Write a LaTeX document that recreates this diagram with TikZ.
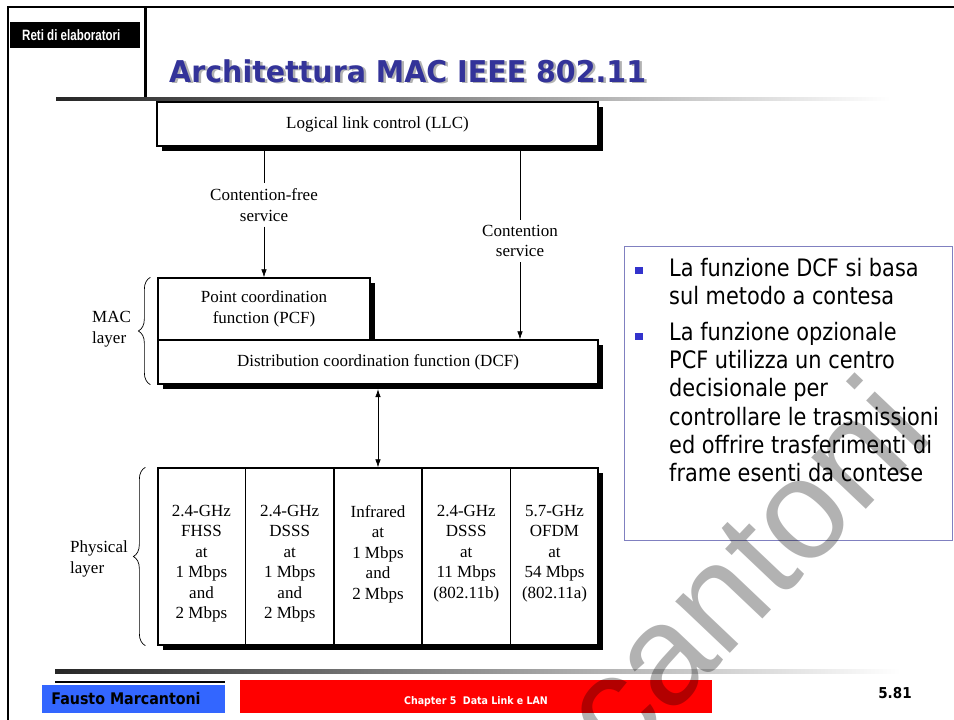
\documentclass[tikz,border=0pt]{standalone}
\usepackage{fontspec}
\setmainfont{Liberation Serif}
\newfontfamily\tah{DejaVu Sans}
\newfontfamily\arialf{Liberation Sans}
\usetikzlibrary{arrows.meta,shadows,decorations.pathreplacing,calc}
\definecolor{titleblue}{RGB}{51,51,153}
\definecolor{bulletblue}{RGB}{51,51,204}
\definecolor{boxborder}{RGB}{128,128,192}
\definecolor{footblue}{RGB}{51,102,255}
\begin{document}
\begin{tikzpicture}[x=1pt,y=-1pt,
  box/.style={draw, line width=1.3pt, fill=white, inner sep=0pt, align=center,
    font=\fontsize{17}{20.5}\selectfont},
  shad/.style={drop shadow={shadow xshift=4.5pt, shadow yshift=-4.5pt, fill=black, opacity=1}},
  lbl/.style={inner sep=0pt, align=center, font=\fontsize{17}{20.5}\selectfont},
  conn/.style={line width=0.7pt},
  arr/.style={line width=0.7pt, -{Latex[length=8pt,width=5.5pt]}},
  darr/.style={line width=0.7pt, {Latex[length=8pt,width=5.5pt]}-{Latex[length=8pt,width=5.5pt]}},
  brc/.style={line width=0.7pt, decorate, decoration={brace, amplitude=12pt}},
  rline/.style={anchor=base west, inner sep=0pt, font=\tah\fontsize{24}{28}\selectfont},
  bul/.style={fill=bulletblue, minimum size=7.5pt, inner sep=0pt},
]
\useasboundingbox (0,0) rectangle (954,720);
\fill[white] (0,0) rectangle (954,720);

% frame
\draw[line width=2.5pt] (8,720) -- (8,7) -- (954,7);
\draw[line width=3pt] (145,7) -- (145,100);
\shade[left color=black!85, right color=white] (56,97) rectangle (890,100.5);

% top-left label
\fill[black] (10,22) rectangle (140,48);
\node[anchor=west, inner sep=0pt, text=white] (reti) at (22,35)
  {\arialf\bfseries\fontsize{15}{15}\selectfont\scalebox{0.77}[1]{Reti di elaboratori}};

% title
\node[anchor=base west, inner sep=0pt, text=black!30] (titleshadow) at (171.5,83.5)
  {\tah\bfseries\fontsize{30}{30}\selectfont\scalebox{0.95}[1]{Architettura MAC IEEE 802.11}};
\node[anchor=base west, inner sep=0pt, text=titleblue] (title) at (169,82)
  {\tah\bfseries\fontsize{30}{30}\selectfont\scalebox{0.95}[1]{Architettura MAC IEEE 802.11}};

% diagram
\node[box, shad, minimum width=441, minimum height=44] (llc) at (377.5,124) {Logical link control (LLC)};
\node[box, shad, minimum width=212, minimum height=62] (pcf) at (264,309) {Point coordination\\function (PCF)};
\node[box, shad, minimum width=440, minimum height=44] (dcf) at (378,362) {Distribution coordination function (DCF)};
\node[box, shad, minimum width=440, minimum height=177] (phy) at (378,556.5) {};
\foreach \i in {1,...,4}
  \draw[line width=1.3pt] ($(phy.north west)!\i/5!(phy.north east)$) -- ($(phy.south west)!\i/5!(phy.south east)$);

\node[lbl, anchor=north] (c1) at ($(phy.north west)!0.1!(phy.north east)+(0,37.5)$) {2.4-GHz\\FHSS\\at\\1 Mbps\\and\\2 Mbps};
\node[lbl, anchor=north] (c2) at ($(phy.north west)!0.3!(phy.north east)+(0,37.5)$) {2.4-GHz\\DSSS\\at\\1 Mbps\\and\\2 Mbps};
\node[lbl, anchor=north] (c3) at ($(phy.north west)!0.5!(phy.north east)+(0,37.5)$) {Infrared\\at\\1 Mbps\\and\\2 Mbps};
\node[lbl, anchor=north] (c4) at ($(phy.north west)!0.7!(phy.north east)+(0,37.5)$) {2.4-GHz\\DSSS\\at\\11 Mbps\\(802.11b)};
\node[lbl, anchor=north] (c5) at ($(phy.north west)!0.9!(phy.north east)+(0,37.5)$) {5.7-GHz\\OFDM\\at\\54 Mbps\\(802.11a)};

\node[lbl, inner ysep=5pt] (cf) at (264,205) {Contention-free\\service};
\node[lbl, inner ysep=5pt] (cs) at (520,241) {Contention\\service};
\draw[conn] (cf |- llc.south) -- (cf.north);
\draw[arr] (cf.south) -- (cf |- pcf.north);
\draw[conn] (cs |- llc.south) -- (cs.north);
\draw[arr] (cs.south) -- (cs |- dcf.north);
\draw[darr] ([yshift=-4.5pt]dcf.south) -- (phy.north);

\draw[brc] ([xshift=-7pt]dcf.south west) -- ([xshift=-7pt]pcf.north west);
\draw[brc] ([xshift=-12pt]phy.south west) -- ([xshift=-12pt]phy.north west);
\node[lbl, align=left, anchor=west] (mac) at (92,329) {MAC\\layer};
\node[lbl, align=left, anchor=west] (phl) at (70,559) {Physical\\layer};

% right text box
\node[draw=boxborder, line width=0.9pt, minimum width=328, minimum height=294, anchor=north west, inner sep=0pt] (tb) at (624,246) {};
\node[bul] (b1) at (639,270.5) {};
\node[bul] (b2) at (639,336.5) {};
\node[rline] (l1) at (669,276) {\scalebox{0.87}[1]{La funzione DCF si basa}};
\node[rline] (l2) at (669,304.3) {\scalebox{0.87}[1]{sul metodo a contesa}};
\node[rline] (l3) at (669,340) {\scalebox{0.87}[1]{La funzione opzionale}};
\node[rline] (l4) at (669,368.3) {\scalebox{0.87}[1]{PCF utilizza un centro}};
\node[rline] (l5) at (669,396.7) {\scalebox{0.87}[1]{decisionale per}};
\node[rline] (l6) at (669,425) {\scalebox{0.87}[1]{controllare le trasmissioni}};
\node[rline] (l7) at (669,453.3) {\scalebox{0.87}[1]{ed offrire trasferimenti di}};
\node[rline] (l8) at (669,481.7) {\scalebox{0.87}[1]{frame esenti da contese}};

% footer
\shade[left color=black!85, right color=white] (55,669.5) rectangle (900,673);
\draw[line width=2pt] (55,682) -- (225,682);
\fill[footblue] (42,685) rectangle (225,713);
\fill[red] (240,680) rectangle (712,713);
\node[inner sep=0pt] (author) at (126,699) {\tah\bfseries\fontsize{16}{16}\selectfont\scalebox{0.89}[1]{Fausto Marcantoni}};
\node[inner sep=0pt, text=white] (chap) at (476,702) {\tah\bfseries\fontsize{10.5}{10.5}\selectfont\scalebox{0.9}[1]{Chapter 5~ Data Link e LAN}};
\node[inner sep=0pt] (pg) at (895,693) {\tah\bfseries\fontsize{15}{15}\selectfont\scalebox{0.9}[1]{5.81}};

% watermark
\begin{scope}
\clip (0,0) rectangle (954,720);
\node[rotate=46.5, anchor=base west, inner sep=0pt, text=black, text opacity=0.3] (wm) at (620.5,769)
  {\arialf\fontsize{142}{142}\selectfont cantoni};
\end{scope}
\end{tikzpicture}
\end{document}
